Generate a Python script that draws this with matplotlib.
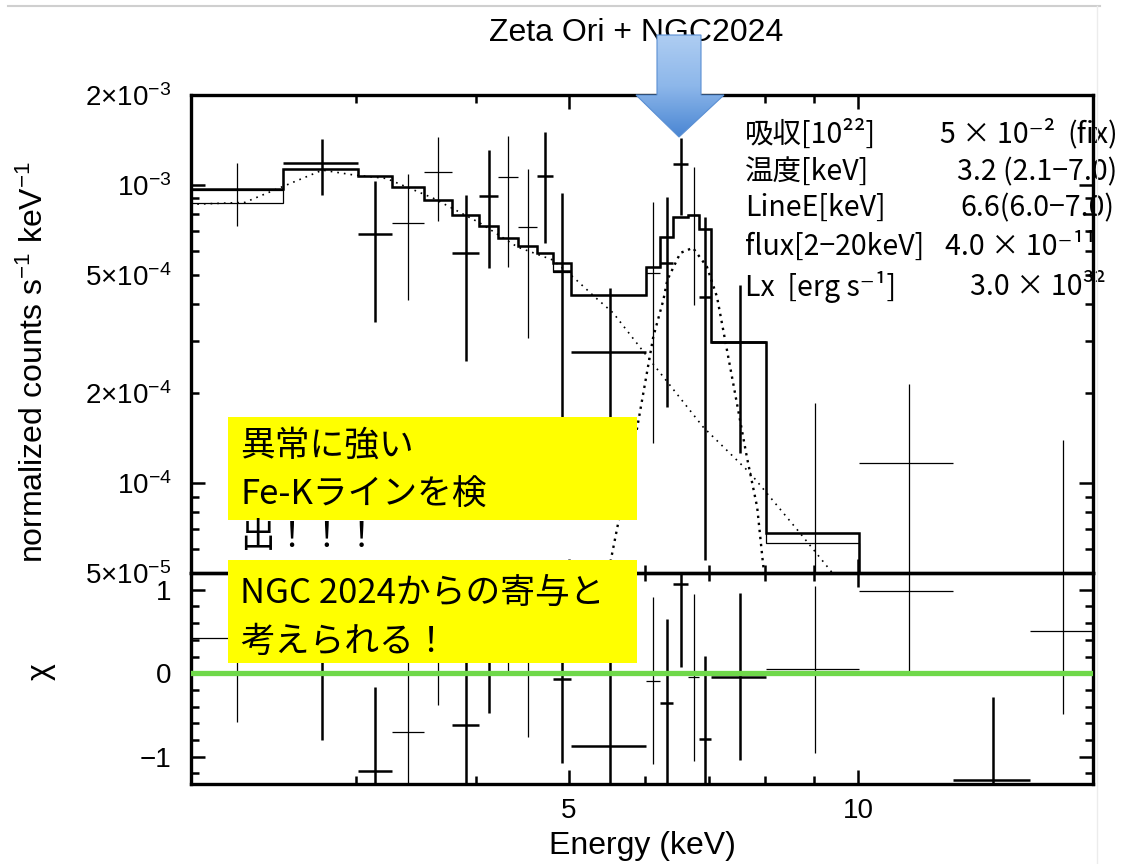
import matplotlib.pyplot as plt
import numpy as np
from matplotlib.colors import LinearSegmentedColormap
from matplotlib.patches import Polygon, Rectangle
from matplotlib.ticker import FixedFormatter, FixedLocator, MultipleLocator, NullFormatter

plt.rcParams['font.family'] = ['Liberation Sans', 'DejaVu Sans']
plt.rcParams['mathtext.fontset'] = 'custom'
plt.rcParams['mathtext.rm'] = 'Liberation Sans'
plt.rcParams['mathtext.it'] = 'Liberation Sans:italic'
plt.rcParams['mathtext.bf'] = 'Liberation Sans:bold'
JP = ['Noto Sans CJK JP', 'DejaVu Sans']

# detector A (bold crosses): bins in keV, rate in counts/s/keV, delchi residuals
a_elo = [2.52, 3.02, 3.78, 4.03, 4.63, 4.81, 5.02, 6.22, 6.42, 6.83, 7.03, 12.55]
a_ehi = [3.02, 3.27, 4.03, 4.22, 4.81, 5.02, 6.02, 6.42, 6.65, 7.03, 8.02, 15.09]
a_rate = [1.185e-3, 6.83e-4, 5.89e-4, 9.19e-4, 1.072e-3, 5.15e-4, 2.75e-4,
          5.47e-4, 1.176e-3, 4.21e-4, 2.97e-4, 1.5e-5]
a_rate_lo = [9.26e-4, 3.48e-4, 2.57e-4, 5.27e-4, 6.39e-4, 1.29e-4, 1.39e-4,
             1.80e-4, 7.93e-4, 5.51e-5, 1.26e-4, 5e-6]
a_rate_hi = [1.427e-3, 1.026e-3, 9.26e-4, 1.311e-3, 1.507e-3, 9.40e-4, 4.51e-4,
             9.11e-4, 1.438e-3, 7.81e-4, 4.62e-4, 3.0e-5]
a_chi = [0.20, -1.17, -0.62, 0.53, 1.30, -0.07, -0.87, -0.35, 1.07, -0.79, -0.04, -1.28]

# detector B (thin crosses)
b_elo = [2.0, 3.27, 3.53, 4.22, 4.43, 6.02, 6.65, 8.02, 10.02, 15.09]
b_ehi = [2.52, 3.53, 3.78, 4.43, 4.63, 6.22, 6.83, 10.02, 12.55, 17.55]
b_rate = [9.62e-4, 7.47e-4, 1.100e-3, 1.063e-3, 7.23e-4, 5.07e-4, 7.93e-4,
          6.80e-5, 1.17e-4, 4.05e-5]
b_rate_lo = [7.28e-4, 4.11e-4, 7.57e-4, 5.31e-4, 3.07e-4, 1.36e-4, 3.96e-4,
             1e-5, 1e-5, 1e-5]
b_rate_hi = [1.185e-3, 1.088e-3, 1.449e-3, 1.460e-3, 1.131e-3, 8.77e-4, 1.149e-3,
             1.86e-4, 2.15e-4, 1.40e-4]
b_chi = [0.42, -0.70, 0.62, 1.02, 0.24, -0.09, -0.05, 0.05, 0.98, 0.51]

# folded model histograms
model_edges = [2.0, 2.52, 3.02, 3.27, 3.53, 3.78, 4.03, 4.22, 4.43, 4.63, 4.81, 5.02,
               6.02, 6.22, 6.42, 6.65, 6.83, 7.03, 8.02, 10.02, 12.55, 15.09, 18.0]
model_a = [9.67e-4, 1.13e-3, 1.074e-3, 9.87e-4, 8.91e-4, 7.93e-4, 7.25e-4, 6.62e-4,
           6.24e-4, 5.90e-4, 5.47e-4, 4.27e-4, 5.31e-4, 6.69e-4, 7.81e-4, 7.93e-4,
           7.12e-4, 2.97e-4, 6.80e-5, 3.0e-5, 2.0e-5, 1.5e-5]
model_b = [8.70e-4, 1.13e-3, 1.074e-3, 9.87e-4, 8.91e-4, 7.93e-4, 7.25e-4, 6.62e-4,
           6.24e-4, 5.90e-4, 5.11e-4, 4.27e-4, 5.31e-4, 6.69e-4, 7.81e-4, 7.93e-4,
           7.12e-4, 2.97e-4, 6.29e-5, 3.0e-5, 2.0e-5, 1.5e-5]

# model components: thermal continuum and Fe-K gaussian
cont_e = [2.02, 2.30, 2.52, 2.77, 2.98, 3.23, 3.61, 4.04, 4.42, 4.81, 5.05, 5.32,
          5.56, 6.07, 6.90, 7.72, 8.70, 9.35, 9.69]
cont_rate = [8.6e-4, 8.73e-4, 9.87e-4, 1.12e-3, 1.08e-3, 1.05e-3, 9.03e-4, 7.45e-4,
             6.19e-4, 5.60e-4, 4.91e-4, 4.21e-4, 3.72e-4, 2.59e-4, 1.54e-4, 1.08e-4,
             6.80e-5, 5.11e-5, 4.4e-5]
line_e = [5.45, 5.52, 5.89, 6.12, 6.27, 6.33, 6.53, 6.73, 6.96, 7.13, 7.41, 7.66,
          7.85, 7.96, 8.02]
line_rate = [4.4e-5, 5.39e-5, 1.54e-4, 3.09e-4, 4.11e-4, 4.80e-4, 5.91e-4, 6.15e-4,
             5.31e-4, 4.21e-4, 2.17e-4, 1.22e-4, 8.31e-5, 5.39e-5, 4.4e-5]

# axis ticks
x_major = [5, 10]
x_major_labels = ['5', '10']
x_minor = [3, 4, 6, 7, 8, 9]
y_major = [1e-4, 1e-3]
y_major_labels = [r'$10^{-4}$', r'$10^{-3}$']
y_minor = [5e-5, 6e-5, 7e-5, 8e-5, 9e-5, 2e-4, 3e-4, 4e-4, 5e-4, 6e-4, 7e-4, 8e-4,
           9e-4, 2e-3]
y_minor_labels = [r'$5{\times}10^{-5}$', '', '', '', '', r'$2{\times}10^{-4}$', '', '',
                  r'$5{\times}10^{-4}$', '', '', '', '', r'$2{\times}10^{-3}$']
chi_major = [-1, 0, 1]
chi_major_labels = ['\u22121', '0', '1']

# fit results
table_keys = ['吸収[10²²]', '温度[keV]', 'LineE[keV]', 'flux[2\u221220keV]',
              'Lx  [erg s⁻¹]']
table_vals = ['5 × 10⁻²', '3.2 (2.1\u22127.0)', '6.6(6.0\u22127.0)', '4.0 × 10⁻¹¹',
              '3.0 × 10³²']

THICK, THIN = 1.8, 0.9


def crosses(ax, elo, ehi, y, ylo, yhi, lw):
    elo, ehi, y = np.asarray(elo), np.asarray(ehi), np.asarray(y)
    ec = (elo + ehi) / 2
    ax.errorbar(ec, y, xerr=[ec - elo, ehi - ec],
                yerr=[y - np.asarray(ylo), np.asarray(yhi) - y],
                fmt='none', ecolor='k', elinewidth=lw, capsize=0, zorder=2)


fig = plt.figure(figsize=(11.27, 8.64), dpi=100)
ax = fig.add_axes([0.16947, 0.33681, 0.80035, 0.55324])
axr = fig.add_axes([0.16947, 0.09259, 0.80035, 0.24421], sharex=ax)

# overlay in pixel units for annotations
ov = fig.add_axes([0, 0, 1, 1], zorder=10)
ov.set_xlim(0, 1127)
ov.set_ylim(864, 0)
ov.axis('off')
px = ov.transData

ax.set_xscale('log')
ax.set_yscale('log')
ax.set_xlim(2.022, 17.55)
ax.set_ylim(5e-5, 2e-3)

ax.stairs(model_b, model_edges, baseline=None, color='k', lw=THIN, zorder=2)
ax.stairs(model_a, model_edges, baseline=None, color='k', lw=THICK, zorder=2)
crosses(ax, a_elo, a_ehi, a_rate, a_rate_lo, a_rate_hi, THICK)
crosses(ax, b_elo, b_ehi, b_rate, b_rate_lo, b_rate_hi, THIN)
ax.plot(cont_e, cont_rate, color='k', lw=1.2, ls=(0, (1, 3)), zorder=2)
ax.plot(line_e, line_rate, color='k', lw=1.7, ls=(0, (1, 2)), zorder=2)

# residuals
ones_a = np.ones(len(a_chi))
ones_b = np.ones(len(b_chi))
crosses(axr, a_elo, a_ehi, a_chi, np.array(a_chi) - ones_a, np.array(a_chi) + ones_a, THICK)
crosses(axr, b_elo, b_ehi, b_chi, np.array(b_chi) - ones_b, np.array(b_chi) + ones_b, THIN)
axr.axhline(0, color='#6fd84a', lw=3.8, zorder=3)
axr.set_ylim(-1.326, 1.201)

# ticks
axr.xaxis.set_major_locator(FixedLocator(x_major))
axr.xaxis.set_major_formatter(FixedFormatter(x_major_labels))
axr.xaxis.set_minor_locator(FixedLocator(x_minor))
axr.xaxis.set_minor_formatter(NullFormatter())
ax.yaxis.set_major_locator(FixedLocator(y_major))
ax.yaxis.set_major_formatter(FixedFormatter(y_major_labels))
ax.yaxis.set_minor_locator(FixedLocator(y_minor))
ax.yaxis.set_minor_formatter(FixedFormatter(y_minor_labels))
axr.yaxis.set_major_locator(FixedLocator(chi_major))
axr.yaxis.set_major_formatter(FixedFormatter(chi_major_labels))
axr.yaxis.set_minor_locator(MultipleLocator(0.2))
axr.yaxis.set_minor_formatter(NullFormatter())

for a in (ax, axr):
    a.tick_params(which='both', direction='in', top=True, right=True,
                  width=1.8, labelsize=20, color='k')
    a.tick_params(which='major', length=10)
    a.tick_params(which='minor', length=6)
    a.tick_params(axis='y', which='both', pad=14)
    a.tick_params(axis='x', which='both', pad=10)
    for s in a.spines.values():
        s.set_linewidth(2.4)
    a.set_facecolor('none')
ax.tick_params(which='both', labelbottom=False)

# titles and axis labels
ov.text(636, 33, 'Zeta Ori + NGC2024', fontsize=23, ha='center', va='center')
ov.text(642, 846, 'Energy (keV)', fontsize=23, ha='center', va='center')
ov.text(34, 362, r'normalized counts s$^{-1}$ keV$^{-1}$', fontsize=23,
        rotation=90, ha='center', va='center')
ov.text(41, 672, 'χ', fontsize=23, rotation=90, ha='center', va='center')

# fit-result table, drawn under the frame
row_y = [135, 172, 208, 247, 287]
val_x = [940, 957, 960, 945, 970]
for k, v, y, vx in zip(table_keys, table_vals, row_y, val_x):
    ax.text(745, y, k, transform=px, family=JP, fontsize=20.5, va='center',
            ha='left', zorder=1.5, clip_on=False)
    ax.text(vx, y, v, transform=px, family=JP, fontsize=20.5, va='center',
            ha='left', zorder=1.5, clip_on=False)
ax.text(1067, row_y[0], '(fix)', transform=px, family=JP, fontsize=20.5,
        va='center', ha='left', zorder=1.5, clip_on=False)

# callout boxes
for top in (417, 560):
    ov.add_patch(Rectangle((228, top), 409, 103, facecolor='#ffff00',
                           edgecolor='none', zorder=5))
callout = [(446, '異常に強い'), (495, 'Fe-Kラインを検'), (538, '出！！！'),
           (593, 'NGC 2024からの寄与と'), (642, '考えられる！')]
for y, s in callout:
    ov.text(240, y, s, family=JP, fontsize=25, va='center', ha='left', zorder=6)

# down arrow marking the Fe-K line
arrow = Polygon([(657, 35), (701, 35), (701, 95), (724, 95), (679, 137),
                 (636, 95), (657, 95)], closed=True, facecolor='none',
                edgecolor='#5a8fd3', lw=0.8, zorder=8)
ov.add_patch(arrow)
blues = LinearSegmentedColormap.from_list('arrow', ['#aecdf2', '#8db7ea', '#4a86d3'])
grad = ov.imshow(np.linspace(0, 1, 200).reshape(-1, 1), cmap=blues, aspect='auto',
                 extent=(636, 724, 137, 35), origin='upper', zorder=7)
grad.set_clip_path(arrow)

# page frame lines
ov.plot([8, 1100], [6, 6], color='#cfcfcf', lw=1.5, zorder=1)
ov.plot([1097, 1097], [6, 864], color='#ececec', lw=1.0, zorder=1)
ov.set_xlim(0, 1127)
ov.set_ylim(864, 0)

fig.savefig('out.png', dpi=100)
